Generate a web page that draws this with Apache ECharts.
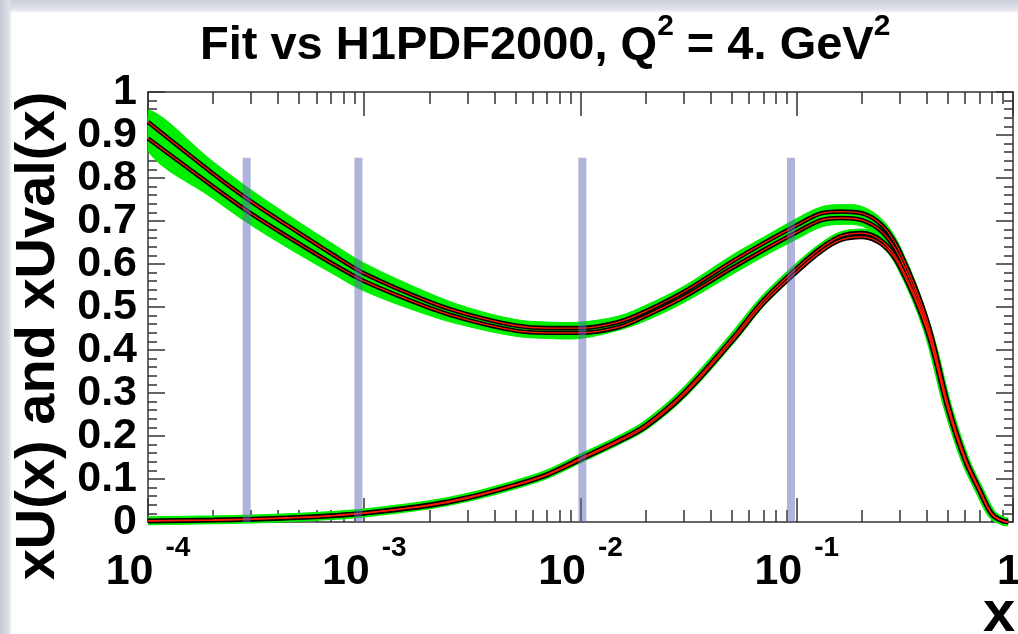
<!DOCTYPE html>
<html>
<head>
<meta charset="utf-8">
<script src="https://cdn.jsdelivr.net/npm/echarts@6/dist/echarts.min.js"></script>
<style>
  html, body { margin: 0; padding: 0; width: 1018px; height: 634px; overflow: hidden; }
  body {
    background:
      linear-gradient(to right, #c4c9d4 0px, #dde0e7 9px, rgba(255,255,255,0) 12px),
      linear-gradient(to bottom, #ccd0da 0px, #e2e5eb 10px, #ffffff 13px);
  }
  #chart { width: 1018px; height: 634px; }
</style>
</head>
<body>
<div id="chart"></div>
<script>
// ---------------- data ----------------
const xGrid = [0.0001, 0.0002, 0.0003, 0.0005, 0.0007, 0.001, 0.002, 0.003, 0.005, 0.007,
               0.01, 0.015, 0.02, 0.03, 0.05, 0.07, 0.1, 0.13, 0.16, 0.2,
               0.25, 0.3, 0.4, 0.5, 0.6, 0.7, 0.8, 0.9, 0.95];

// xU(x): fit and H1PDF2000 curves
const xU_fit = [0.930, 0.810, 0.745, 0.672, 0.625, 0.578, 0.512, 0.483, 0.457, 0.451,
                0.451, 0.465, 0.490, 0.535, 0.605, 0.648, 0.690, 0.718, 0.722, 0.718,
                0.688, 0.628, 0.470, 0.275, 0.150, 0.076, 0.019, 0.002, 0.0];
const xU_h1  = [0.892, 0.780, 0.717, 0.647, 0.603, 0.560, 0.498, 0.470, 0.445, 0.440,
                0.440, 0.453, 0.479, 0.523, 0.590, 0.632, 0.674, 0.702, 0.707, 0.702,
                0.673, 0.615, 0.460, 0.268, 0.146, 0.074, 0.018, 0.002, 0.0];
// xU(x) uncertainty band (green)
const xU_bandHi = [0.958, 0.838, 0.772, 0.697, 0.650, 0.602, 0.532, 0.499, 0.471, 0.465,
                   0.465, 0.479, 0.504, 0.548, 0.620, 0.662, 0.706, 0.733, 0.738, 0.734,
                   0.702, 0.642, 0.482, 0.284, 0.156, 0.080, 0.022, 0.003, 0.0];
const xU_bandLo = [0.862, 0.752, 0.690, 0.622, 0.580, 0.537, 0.480, 0.455, 0.432, 0.427,
                   0.427, 0.446, 0.468, 0.510, 0.575, 0.617, 0.658, 0.686, 0.692, 0.688,
                   0.660, 0.600, 0.448, 0.258, 0.138, 0.069, 0.015, 0.001, 0.0];

// xUval(x): fit and H1PDF2000 curves
const xUval_fit = [0.003, 0.005, 0.007, 0.011, 0.015, 0.021, 0.040, 0.057, 0.087, 0.111,
                   0.148, 0.190, 0.225, 0.300, 0.425, 0.515, 0.590, 0.638, 0.665, 0.672,
                   0.652, 0.600, 0.452, 0.266, 0.145, 0.073, 0.018, 0.002, 0.0];
const xUval_h1  = [0.002, 0.004, 0.006, 0.010, 0.014, 0.020, 0.038, 0.055, 0.085, 0.109,
                   0.145, 0.187, 0.221, 0.295, 0.419, 0.508, 0.582, 0.630, 0.656, 0.663,
                   0.644, 0.593, 0.446, 0.262, 0.143, 0.072, 0.017, 0.002, 0.0];

// vertical blue markers
const markerX = [0.000286, 0.00094, 0.0102, 0.094];
const markerTop = [0.847, 0.847, 0.847, 0.847];

// tick values
const xMajorExp = { '0.0001': '-4', '0.001': '-3', '0.01': '-2', '0.1': '-1' };
const xMinorTicks = [0.0002, 0.0003, 0.0004, 0.0005, 0.0006, 0.0007, 0.0008, 0.0009,
                     0.002, 0.003, 0.004, 0.005, 0.006, 0.007, 0.008, 0.009,
                     0.02, 0.03, 0.04, 0.05, 0.06, 0.07, 0.08, 0.09,
                     0.2, 0.3, 0.4, 0.5, 0.6, 0.7, 0.8, 0.9];

// ---------------- chart ----------------
const FONT = '"Liberation Sans", Arial, Helvetica, sans-serif';
const AX = '#333333';
const pairs = (ys) => xGrid.map((x, i) => [x, ys[i]]);

const chart = echarts.init(document.getElementById('chart'), null, { renderer: 'canvas' });

function curveSeries(ys, color, width, z) {
  return {
    type: 'line', xAxisIndex: 0, yAxisIndex: 0, data: pairs(ys),
    showSymbol: false, symbol: 'none', smooth: 0.35, clip: true, silent: true,
    lineStyle: { color: color, width: width }, z: z
  };
}

const xLabelRich = {
  b: { fontFamily: FONT, fontWeight: 'bold', fontSize: 43, color: '#000',
       verticalAlign: 'bottom', lineHeight: 60 },
  e: { fontFamily: FONT, fontWeight: 'bold', fontSize: 28, color: '#000',
       padding: [0, 0, 0, 12], verticalAlign: 'top', lineHeight: 32 },
  o: { fontFamily: FONT, fontWeight: 'bold', fontSize: 43, color: '#000',
       padding: [0, 8, 0, 0], verticalAlign: 'bottom', lineHeight: 60 }
};

function xLabelFmt(v) {
  const key = String(+v.toPrecision(3));
  if (xMajorExp[key] !== undefined) return '{b|10}{e|' + xMajorExp[key] + '}';
  if (Math.abs(v - 1) < 1e-9) return '{o|1}';
  return '';
}

const option = {
  backgroundColor: 'transparent',
  animation: false,
  title: [
    {
      text: '{t|Fit vs H1PDF2000, Q}{s|2}{t| = 4. GeV}{s|2}',
      left: 195, top: 7,
      textStyle: {
        rich: {
          t: { fontFamily: FONT, fontWeight: 'bold', fontSize: 47, color: '#000',
               verticalAlign: 'bottom', lineHeight: 58 },
          s: { fontFamily: FONT, fontWeight: 'bold', fontSize: 30, color: '#000',
               verticalAlign: 'top', lineHeight: 30 }
        }
      }
    },
    {
      text: 'x', left: 978, top: 581,
      textStyle: { fontFamily: FONT, fontWeight: 'bold', fontSize: 58, color: '#000' }
    }
  ],
  grid: [
    { left: 148, right: 5, top: 92, bottom: 112, containLabel: false, outerBoundsMode: 'none' },
    { left: 148, right: 5, top: 92, bottom: 112, containLabel: false, outerBoundsMode: 'none' }
  ],
  xAxis: [
    {
      gridIndex: 0, type: 'log', logBase: 10, min: 0.0001, max: 1, position: 'bottom',
      axisLine: { show: true, onZero: false, lineStyle: { color: AX, width: 1.5 } },
      axisTick: { show: true, inside: true, length: 24, lineStyle: { color: AX, width: 1.5 } },
      minorTick: { show: false },
      axisLabel: { show: true, margin: 12, formatter: xLabelFmt, rich: xLabelRich,
                   showMinLabel: true, showMaxLabel: true, hideOverlap: false },
      splitLine: { show: false }
    },
    {
      gridIndex: 0, type: 'log', logBase: 10, min: 0.0001, max: 1, position: 'top',
      axisLine: { show: true, onZero: false, lineStyle: { color: AX, width: 1.5 } },
      axisTick: { show: true, inside: true, length: 24, lineStyle: { color: AX, width: 1.5 } },
      axisLabel: { show: false }, splitLine: { show: false }
    },
    {
      gridIndex: 1, type: 'log', logBase: 10, min: 0.0001, max: 1, position: 'bottom',
      axisLine: { show: false, onZero: false },
      axisTick: { show: true, inside: true, length: 12, customValues: xMinorTicks,
                  lineStyle: { color: AX, width: 1.5 } },
      axisLabel: { show: false }, splitLine: { show: false }
    },
    {
      gridIndex: 1, type: 'log', logBase: 10, min: 0.0001, max: 1, position: 'top',
      axisLine: { show: false, onZero: false },
      axisTick: { show: true, inside: true, length: 12, customValues: xMinorTicks,
                  lineStyle: { color: AX, width: 1.5 } },
      axisLabel: { show: false }, splitLine: { show: false }
    }
  ],
  yAxis: [
    {
      gridIndex: 0, type: 'value', min: 0, max: 1, interval: 0.1, position: 'left',
      axisLine: { show: true, onZero: false, lineStyle: { color: AX, width: 1.5 } },
      axisTick: { show: true, inside: true, length: 17, lineStyle: { color: AX, width: 1.5 } },
      minorTick: { show: true, splitNumber: 5, length: 9, lineStyle: { color: AX, width: 1.5 } },
      axisLabel: {
        margin: 11, fontFamily: FONT, fontWeight: 'bold', fontSize: 43, color: '#000',
        showMinLabel: true, showMaxLabel: true,
        formatter: (v) => (v === 0 ? '0' : (Math.abs(v - 1) < 1e-9 ? '1' : v.toFixed(1)))
      },
      splitLine: { show: false }, minorSplitLine: { show: false },
      name: 'xU(x) and xUval(x)', nameLocation: 'middle', nameRotate: 90, nameGap: 80,
      nameTextStyle: { fontFamily: FONT, fontWeight: 'bold', fontSize: 56, color: '#000',
                       padding: [0, 58, 0, 0] }
    },
    {
      gridIndex: 0, type: 'value', min: 0, max: 1, interval: 0.1, position: 'right',
      axisLine: { show: true, onZero: false, lineStyle: { color: AX, width: 1.5 } },
      axisTick: { show: true, inside: true, length: 17, lineStyle: { color: AX, width: 1.5 } },
      minorTick: { show: true, splitNumber: 5, length: 9, lineStyle: { color: AX, width: 1.5 } },
      axisLabel: { show: false }, splitLine: { show: false }, minorSplitLine: { show: false }
    },
    {
      gridIndex: 1, type: 'value', min: 0, max: 1, show: false
    }
  ],
  series: [
    // green uncertainty band of xU
    {
      type: 'custom', xAxisIndex: 0, yAxisIndex: 0, clip: true, silent: true, z: 1,
      data: pairs(xU_bandHi),
      renderItem: function (params, api) {
        if (params.dataIndex !== 0) return null;
        const pts = [];
        for (let i = 0; i < xGrid.length; i++) pts.push(api.coord([xGrid[i], xU_bandHi[i]]));
        for (let i = xGrid.length - 1; i >= 0; i--) pts.push(api.coord([xGrid[i], xU_bandLo[i]]));
        return { type: 'polygon', shape: { points: pts, smooth: 0.35 },
                 style: { fill: '#00ee00', stroke: '#00ee00', lineWidth: 1 } };
      }
    },
    // green halo of xUval
    curveSeries(xUval_fit, '#00ee00', 9, 2),
    // black curves
    curveSeries(xU_fit, '#000000', 4.5, 3),
    curveSeries(xU_h1, '#000000', 4.5, 3),
    curveSeries(xUval_fit, '#000000', 4.5, 3),
    curveSeries(xUval_h1, '#000000', 4.5, 3),
    // red inner curves
    curveSeries(xU_fit, '#ff1a00', 1.3, 4),
    curveSeries(xU_h1, '#ff1a00', 1.3, 4),
    curveSeries(xUval_fit, '#ff1a00', 1.3, 4),
    curveSeries(xUval_h1, '#ff1a00', 1.3, 4),
    // vertical blue markers
    {
      type: 'custom', xAxisIndex: 0, yAxisIndex: 0, silent: true, z: 6,
      data: markerX.map((x, i) => [x, markerTop[i]]),
      renderItem: function (params, api) {
        const top = api.coord([api.value(0), api.value(1)]);
        const bot = api.coord([api.value(0), 0]);
        return { type: 'rect',
                 shape: { x: top[0] - 4, y: top[1], width: 8, height: bot[1] - top[1] },
                 style: { fill: 'rgba(97,105,185,0.5)' } };
      }
    }
  ]
};
chart.setOption(option);
</script>
</body>
</html>
